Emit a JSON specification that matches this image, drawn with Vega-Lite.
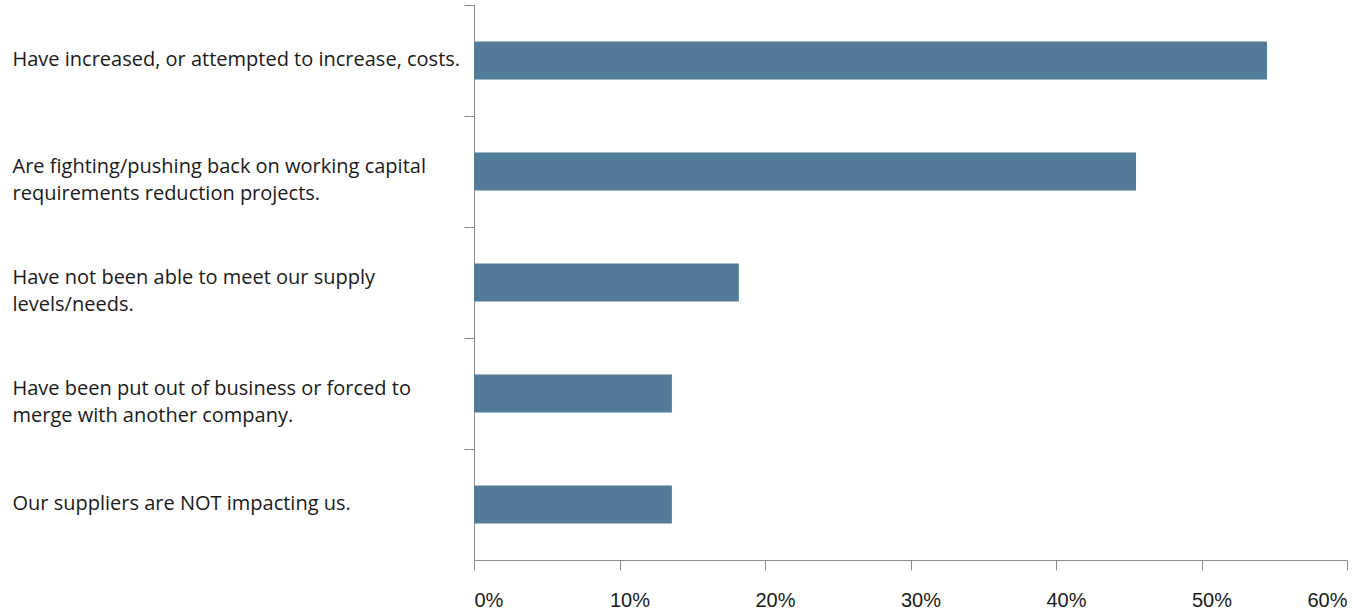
{
  "$schema": "https://vega.github.io/schema/vega-lite/v6.json",
  "autosize": {"type": "none"},
  "width": 873,
  "height": 555,
  "padding": {"left": 474, "top": 5, "right": 21, "bottom": 53},
  "background": "white",
  "config": {"view": {"stroke": null}},
  "data": {
    "values": [
      {"label": "Have increased, or attempted to increase, costs.", "value": 0.545},
      {"label": "Are fighting/pushing back on working capital|requirements reduction projects.", "value": 0.455},
      {"label": "Have not been able to meet our supply|levels/needs.", "value": 0.182},
      {"label": "Have been put out of business or forced to|merge with another company.", "value": 0.136},
      {"label": "Our suppliers are NOT impacting us.", "value": 0.136}
    ]
  },
  "mark": {"type": "bar", "color": "#527B99"},
  "encoding": {
    "y": {
      "field": "label",
      "type": "nominal",
      "sort": null,
      "title": null,
      "scale": {"paddingInner": 0.658, "paddingOuter": 0.329},
      "axis": {
        "labelExpr": "split(datum.label, '|')",
        "labelAlign": "left",
        "labelBaseline": "middle",
        "labelPadding": 452,
        "labelFont": "Open Sans",
        "labelFontSize": 20,
        "labelColor": "#1a1a1a",
        "labelLineHeight": 27,
        "labelLimit": 0,
        "labelOffset": {"condition": {"test": "indexof(datum.value, '|') >= 0", "value": 50}, "value": 54},
        "tickOffset": -55.5,
        "tickSize": 10,
        "tickColor": "#8c8c8c",
        "domainColor": "#8c8c8c",
        "grid": false
      }
    },
    "x": {
      "field": "value",
      "type": "quantitative",
      "title": null,
      "scale": {"domain": [0, 0.6], "nice": false},
      "axis": {
        "values": [0, 0.1, 0.2, 0.3, 0.4, 0.5, 0.6],
        "format": ".0%",
        "labelAlign": {"condition": [{"test": "datum.value < 0.01", "value": "left"}, {"test": "datum.value > 0.59", "value": "right"}], "value": "center"},
        "labelOffset": {"condition": {"test": "datum.value > 0.01 && datum.value < 0.59", "value": 10}, "value": 0},
        "labelFont": "Liberation Sans",
        "labelFontSize": 20,
        "labelColor": "#1a1a1a",
        "labelPadding": 20,
        "tickSize": 10,
        "tickColor": "#8c8c8c",
        "domainColor": "#8c8c8c",
        "grid": false
      }
    }
  }
}
